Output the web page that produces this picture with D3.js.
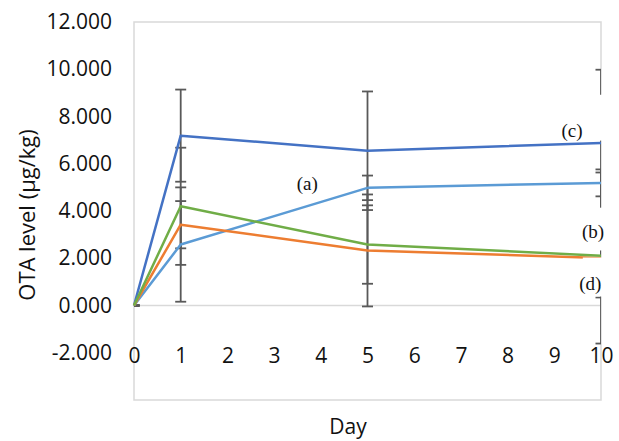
<!DOCTYPE html>
<html>
<head>
<meta charset="utf-8">
<script src="https://cdn.jsdelivr.net/npm/d3@7"></script>
<style>
  body { margin: 0; background: #fff; }
  svg { display: block; }
</style>
</head>
<body>
<svg id="chart" width="619" height="441"></svg>
<script>
// Sampling days
const days = [0, 1, 5, 10];

// OTA level per series (ug/kg) and error bar half-widths
const valuesA = [0, 2.58, 4.98, 5.19];
const errorsA = [0, 2.42, 0.52, 0.57];
const valuesB = [0, 4.2, 2.58, 2.11];
const errorsB = [0, 2.48, 1.66, 1.77];
const valuesC = [0, 7.19, 6.55, 6.88];
const errorsC = [0, 1.95, 2.51, 3.1];
const valuesD = [0, 3.42, 2.33, 2.01];
const errorsD = [0, 1.0, 2.37, 3.62];

// Axis ticks
const xTicks = [0, 1, 2, 3, 4, 5, 6, 7, 8, 9, 10];
const yTicks = [-2, 0, 2, 4, 6, 8, 10, 12];

// In-plot annotations (text boxes with white fill, in data units)
const notes = [
  { label: "(a)", x: 3.71, y: 5.19, box: null },
  { label: "(c)", x: 9.38, y: 7.4, box: [8.91, 10.15, 8.92, 6.98] },
  { label: "(b)", x: 9.83, y: 3.13, box: [9.45, 10.15, 4.14, 2.33] },
  { label: "(d)", x: 9.77, y: 0.93, box: [9.61, 10.15, 2.03, 0.38] },
];

const series = [
  { name: "c", values: valuesC, errors: errorsC, color: "#4472C4" },
  { name: "a", values: valuesA, errors: errorsA, color: "#5B9BD5" },
  { name: "d", values: valuesD, errors: errorsD, color: "#ED7D31" },
  { name: "b", values: valuesB, errors: errorsB, color: "#70AD47" },
];

const svg = d3.select("#chart");
const margin = { top: 22, right: 18, bottom: 41, left: 134 };
const width = 619 - margin.left - margin.right;
const height = 441 - margin.top - margin.bottom;

const x = d3.scaleLinear().domain([0, 10]).range([0, width]);
const y = d3.scaleLinear().domain([-4, 12]).range([height, 0]);

const g = svg.append("g").attr("transform", `translate(${margin.left},${margin.top})`);

svg.append("defs").append("clipPath").attr("id", "plot-clip")
  .append("rect").attr("width", width).attr("height", height);

// plot area frame
g.append("rect")
  .attr("width", width)
  .attr("height", height)
  .attr("fill", "none")
  .attr("stroke", "#d9d9d9")
  .attr("stroke-width", 1.5);

// zero line
g.append("line")
  .attr("x1", 0).attr("x2", width)
  .attr("y1", y(0)).attr("y2", y(0))
  .attr("stroke", "#d9d9d9")
  .attr("stroke-width", 1.5);

// y axis labels (plain hyphen for negatives, like Excel)
const fmtY = (v) => d3.format(".3f")(v).replace("−", "-");
const yAxis = g.append("g")
  .call(d3.axisLeft(y).tickValues(yTicks).tickFormat(fmtY).tickSize(0).tickPadding(22));
yAxis.select(".domain").remove();
yAxis.selectAll("text")
  .attr("font-family", "'Open Sans', sans-serif")
  .attr("font-size", 21)
  .attr("fill", "#111");

// x axis labels (sit below the zero line)
const xAxis = g.append("g")
  .attr("transform", `translate(0,${y(0)})`)
  .call(d3.axisBottom(x).tickValues(xTicks).tickFormat(d3.format("d")).tickSize(0).tickPadding(43));
xAxis.select(".domain").remove();
xAxis.selectAll("text")
  .attr("font-family", "'Open Sans', sans-serif")
  .attr("font-size", 21)
  .attr("fill", "#111");

// error bars
const capHalf = 5.5;
const bars = g.append("g").attr("clip-path", "url(#plot-clip)");
series.forEach((s) => {
  days.forEach((d, i) => {
    const lo = s.values[i] - s.errors[i];
    const hi = s.values[i] + s.errors[i];
    bars.append("line")
      .attr("x1", x(d)).attr("x2", x(d))
      .attr("y1", y(hi)).attr("y2", y(lo))
      .attr("stroke", "#595959").attr("stroke-width", 1.8);
    [lo, hi].forEach((v) => {
      bars.append("line")
        .attr("x1", x(d) - capHalf).attr("x2", x(d) + capHalf)
        .attr("y1", y(v)).attr("y2", y(v))
        .attr("stroke", "#595959").attr("stroke-width", 1.8);
    });
  });
});

// series lines
const line = d3.line()
  .x((d) => x(d[0]))
  .y((d) => y(d[1]));

series.forEach((s) => {
  g.append("path")
    .datum(days.map((d, i) => [d, s.values[i]]))
    .attr("d", line)
    .attr("fill", "none")
    .attr("stroke", s.color)
    .attr("stroke-width", 2.5)
    .attr("stroke-linejoin", "round");
});

// annotation boxes and labels
notes.forEach((n) => {
  if (n.box) {
    g.append("rect")
      .attr("x", x(n.box[0]))
      .attr("y", y(n.box[2]))
      .attr("width", x(n.box[1]) - x(n.box[0]))
      .attr("height", y(n.box[3]) - y(n.box[2]))
      .attr("fill", "#fff");
  }
  g.append("text")
    .attr("x", x(n.x))
    .attr("y", y(n.y))
    .attr("dy", "0.35em")
    .attr("text-anchor", "middle")
    .attr("font-family", "'Liberation Serif', serif")
    .attr("font-size", 19)
    .attr("fill", "#111")
    .text(n.label);
});

// axis titles
svg.append("text")
  .attr("transform", "translate(27,215) rotate(-90)")
  .attr("dy", "0.35em")
  .attr("text-anchor", "middle")
  .attr("font-family", "'Open Sans', sans-serif")
  .attr("font-size", 22)
  .attr("fill", "#111")
  .text("OTA level (µg/kg)");

svg.append("text")
  .attr("x", 348)
  .attr("y", 434)
  .attr("text-anchor", "middle")
  .attr("font-family", "'Open Sans', sans-serif")
  .attr("font-size", 21)
  .attr("fill", "#111")
  .text("Day");
</script>
</body>
</html>
